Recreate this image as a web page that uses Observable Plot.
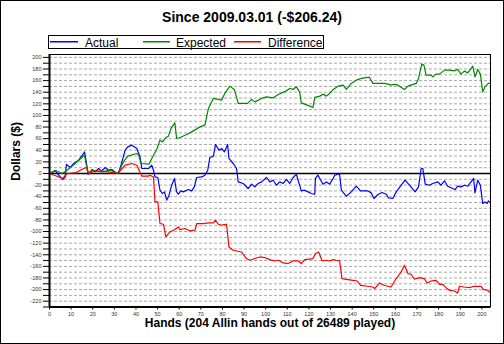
<!DOCTYPE html>
<html>
<head>
<meta charset="utf-8">
<script src="https://cdn.jsdelivr.net/npm/d3@7"></script>
<script src="https://cdn.jsdelivr.net/npm/@observablehq/plot@0.6"></script>
<style>
  body { margin: 0; background: #fff; }
  #wrap { position: relative; width: 504px; height: 344px; overflow: hidden; background: #fff;
          font-family: "Liberation Sans", Arial, sans-serif; color: #000; }
  #border { position: absolute; left: 0; top: 0; width: 504px; height: 344px; box-sizing: border-box;
            border: 1px solid #000; pointer-events: none; }
  #chart { position: absolute; left: 0; top: 0; }
  #title { position: absolute; left: 0; top: 10px; width: 504px; text-align: center;
           font-weight: bold; font-size: 14px; line-height: 14px; white-space: nowrap; }
  #legend { position: absolute; left: 0; top: 0; }
</style>
</head>
<body>
<div id="wrap">
  <div id="chart"></div>
  <div id="title"></div>
  <div id="legend"></div>
  <div id="border"></div>
</div>
<script>
const titleText = "Since 2009.03.01 (-$206.24)";
const xTitle = "Hands (204 Allin hands out of 26489 played)";
const yTitle = "Dollars ($)";
const seriesNames = ["Actual", "Expected", "Difference"];
const seriesColors = ["#0000ff", "#008800", "#ff0000"];

const actualHands = [0, 2.7, 4.2, 6.2, 7.3, 7.8, 9.6, 11.2, 13.5, 15.8, 16.2, 17, 17.8, 18.8, 19.6, 21.1, 22.7, 24.2, 25.8, 27.3, 28.8, 31.2, 32.2, 33.5, 35, 36.2, 38.1, 40.4, 41.9, 42.7, 45.8, 47.3, 48.1, 48.8, 50.1, 51.1, 52.2, 53.2, 54.2, 55.3, 56.5, 57.8, 58.8, 59.6, 60.8, 61.9, 64.2, 65.8, 67, 68.1, 70.4, 71.9, 73.2, 74.2, 75.8, 76.8, 78.4, 79.6, 80.9, 82.4, 83, 85, 86.5, 87.3, 89.6, 91.9, 93.5, 95, 96.5, 98.1, 100.4, 101.9, 103.5, 105, 106.5, 108.1, 109.6, 111.1, 112.7, 114.2, 115, 116.5, 118, 119.6, 121.1, 122.7, 123, 124.2, 126.5, 128.1, 129.6, 131.2, 131.9, 133.5, 134.2, 135, 137.3, 139.6, 141.9, 143.9, 147.3, 148.8, 150.1, 151.9, 153.8, 155.8, 156.8, 158.8, 160.4, 162.7, 164.5, 166.5, 169.1, 170.7, 171.9, 172.7, 173.8, 175.7, 177.3, 179.6, 181.1, 182.7, 184.2, 186.5, 187.6, 188.8, 190.4, 191.9, 193.5, 195, 196.2, 196.8, 198.1, 199.3, 200.4, 201.4, 202.4, 203, 204];
const actualValues = [0, 4.5, -2.9, -10.3, -5.9, 15.5, 10.3, 17.2, 22.9, 34.5, 37.2, 20, -1.2, 0, 6.9, 2.8, 8.6, 4.5, 10.3, 5.7, 6.9, 0, 2.8, 20, 40.2, 45.9, 48.8, 43.1, 28.6, 8.6, 8.6, 14.3, 5.7, -5.9, -6.9, -28.8, -34.5, -31.7, -46, -37.4, -20.2, -8.6, -31.7, -35.6, -30, -31.7, -27.6, -30, -23.1, -6.9, -5.9, -2.9, 5.7, 27.6, 29.8, 50, 40.2, 43.1, 37.2, 50, 25.9, 17.2, 8.6, -14.5, -17.2, -25.9, -18.4, -23.1, -17.2, -14.5, -6.9, -14.5, -11.6, -20.2, -14.5, -17.2, -10.3, -17.2, -6.9, -1.2, -11.6, -30, -28.8, -31.7, -34.5, -35.7, -8.6, -2.9, -18.4, -14.5, -18.4, -8.6, -2.9, -1.2, -1.2, -28.8, -39.1, -31.7, -21.9, -30, -30, -33.4, -43.1, -36.2, -32.8, -35.7, -42.1, -43.1, -31.7, -20.2, -11.6, -20.2, -31.7, -23.1, 8.6, 8.6, -18.4, -20.2, -17.2, -14.5, -20.2, -12.6, -21.9, -25.9, -27.6, -21.9, -23.1, -20.2, -21.9, -14.5, -8.6, -33.4, -11.6, -20.2, -51.7, -49, -51.7, -47.2, -50.7];

const expectedHands = [0, 2.7, 5.8, 8.1, 11.9, 16.2, 17.8, 19.6, 24.2, 28.1, 31.6, 34.2, 36.2, 40.4, 41.2, 42.4, 46, 47.3, 49.6, 51.1, 52.2, 53.8, 55, 56.2, 58, 58.8, 60.4, 62.7, 65.8, 69.6, 71.9, 73.5, 75.8, 79.6, 81.1, 83.4, 85.5, 87.3, 91.6, 93.5, 95, 98.1, 100.4, 103.5, 105.8, 109.6, 111.1, 112.7, 114.2, 115.7, 116.5, 120.4, 121.9, 122.7, 125, 126.5, 128.1, 129.6, 131.2, 133.5, 135.8, 137.3, 139.6, 141.9, 144.2, 147.3, 148, 149.6, 155, 158, 160.4, 161.9, 164.2, 165.8, 169.6, 170.7, 172.2, 173.2, 174.2, 176.5, 177.3, 178.8, 180.4, 182.7, 185, 187.3, 188.8, 190.4, 191.9, 193.5, 195.8, 196.8, 198.1, 199.3, 200.4, 201.5, 203, 204];
const expectedValues = [0, 5.7, 0, 5.7, 17.2, 31.6, 0, 5.7, 2.8, 5.7, 0, 20, 29.8, 34.5, 31.6, 17.2, 16, 25.9, 41.4, 57.4, 54.5, 62, 64.3, 77.6, 87.2, 60.3, 62, 66, 71.7, 80.3, 83.3, 112, 129.3, 126.4, 137.9, 150.5, 144.8, 120.7, 120.7, 127.6, 123.4, 129.3, 132, 130.3, 136.2, 142.4, 146.5, 144.8, 149.3, 140.7, 121.7, 116, 113.8, 131, 133.3, 136.7, 133.3, 137.9, 144.8, 150.5, 152.2, 144.8, 155.2, 160.8, 163.8, 165.5, 165.5, 155.2, 155.2, 152.7, 153.4, 150.5, 144.8, 150.5, 155.2, 163.8, 188.4, 186.7, 169.5, 169.5, 166.5, 171.2, 171.2, 178.1, 178.1, 176.9, 179.3, 171.2, 176.4, 173.4, 185, 166.5, 179.3, 171.2, 140.7, 149.3, 155.2, 155.2];

const differenceHands = [0, 6.2, 8.1, 11.9, 15.8, 17.3, 18.1, 21.1, 27.3, 31.6, 35, 38.1, 40.4, 42.7, 45.8, 46.5, 48.1, 48.8, 50.1, 51.1, 52.7, 53.8, 55.7, 58, 59.6, 60.4, 62.7, 65, 67.3, 68.1, 71.2, 73.5, 75.8, 76.8, 78.1, 79.6, 81.9, 83, 85, 88.8, 91.1, 92.7, 95, 97.3, 99.6, 101.9, 104.2, 106, 108.1, 110.4, 112.7, 115, 116.5, 118, 121.9, 123, 124.5, 126.1, 128.1, 129.6, 131.2, 132.7, 134.2, 135.3, 138.1, 140.4, 142.4, 143.9, 147.3, 149.6, 150.4, 152.7, 154.7, 156.5, 158, 160.4, 162.4, 164.2, 165.8, 167.3, 168.8, 171.1, 173.4, 174.7, 176.5, 178.8, 180.4, 181.9, 183.9, 185, 187.3, 188.8, 189.6, 191.9, 194.2, 196.5, 199.6, 200.8, 202.7, 204];
const differenceValues = [0, -8.6, 0, 1, 8.6, 10.3, 0, 4.5, 2.8, 0, 14.3, 17.2, 14.3, -4.7, -4.7, -2.9, -5.9, -49, -49, -86.2, -87.4, -109.3, -100.7, -96.6, -92.1, -96.6, -94.8, -99, -97.8, -86.2, -86.2, -85.2, -85.2, -80.5, -87.4, -89.1, -87.4, -126.5, -132.2, -135.2, -146.5, -149.5, -146.5, -143.8, -144.8, -148.3, -150.7, -149.5, -154.1, -155.2, -150.7, -150.7, -155.2, -148.3, -146.5, -137.9, -135.2, -150.3, -149.5, -150.7, -148.3, -149.5, -150.3, -181, -182.7, -184, -185.2, -192.6, -194.3, -195.5, -198.3, -188.6, -192.6, -194.3, -195.5, -181, -171.4, -158.1, -172.4, -173.6, -182.2, -179.3, -181, -188.6, -185.2, -184, -190.9, -190.9, -198.3, -201.2, -202.4, -205.9, -194.3, -195.5, -196.5, -194.3, -194.3, -200, -201.2, -206.24];

const xTicks = [0, 10, 20, 30, 40, 50, 60, 70, 80, 90, 100, 110, 120, 130, 140, 150, 160, 170, 180, 190, 200];
const yTicks = [-230, -220, -210, -200, -190, -180, -170, -160, -150, -140, -130, -120, -110, -100, -90, -80, -70, -60, -50, -40, -30, -20, -10, 0, 10, 20, 30, 40, 50, 60, 70, 80, 90, 100, 110, 120, 130, 140, 150, 160, 170, 180, 190, 200];
const yDomain = [-230, 205];
const xDomain = [0, 204];

// build tables
const toRows = (hs, vs) => hs.map((h, i) => ({hand: h, value: vs[i]}));
const series = [toRows(actualHands, actualValues), toRows(expectedHands, expectedValues), toRows(differenceHands, differenceValues)];
const gridValues = yTicks.filter(v => v !== 0 && v !== yDomain[0]);

const font = "Liberation Sans, Arial, sans-serif";
const chart = Plot.plot({
  width: 504,
  height: 344,
  marginLeft: 49,
  marginRight: 14,
  marginTop: 54,
  marginBottom: 37.5,
  x: {domain: xDomain},
  y: {domain: yDomain},
  style: {fontFamily: font, background: "transparent", overflow: "visible"},
  marks: [
    Plot.ruleY(gridValues, {stroke: "#a8a8a8", strokeDasharray: "3,2", strokeWidth: 1}),
    Plot.ruleY([0], {stroke: "#000", strokeWidth: 1.5}),
    Plot.line(series[0], {x: "hand", y: "value", stroke: seriesColors[0], strokeWidth: 1.2}),
    Plot.line(series[1], {x: "hand", y: "value", stroke: seriesColors[1], strokeWidth: 1.2}),
    Plot.line(series[2], {x: "hand", y: "value", stroke: seriesColors[2], strokeWidth: 1.2}),
    Plot.frame({stroke: "#000", strokeWidth: 1}),
    Plot.ruleX([xDomain[0]], {stroke: "#000", strokeWidth: 2}),
    Plot.ruleY([yDomain[0]], {stroke: "#000", strokeWidth: 2}),
    Plot.axisY({ticks: yTicks, tickSize: 6, tickPadding: 2, label: null,
      tickFormat: d => (d % 20 === 0 ? String(d) : ""), fontSize: 5.5, fill: "#333", stroke: "#000"}),
    Plot.axisX({ticks: xTicks, tickSize: 3, tickPadding: 2, label: null,
      tickFormat: d => String(d), fontSize: 5.5, fill: "#333", stroke: "#000"}),
    Plot.text([yTitle], {frameAnchor: "left", dx: -33, rotate: -90, fontWeight: "bold", fontSize: 12, fill: "#000"}),
    Plot.text([xTitle], {frameAnchor: "bottom", dy: 20, fontWeight: "bold", fontSize: 12, fill: "#000"})
  ]
});
document.getElementById("chart").appendChild(chart);
document.getElementById("title").textContent = titleText;

// legend (small svg overlay in page coordinates)
const legendLayout = [
  {line: [50, 78], text: 85},
  {line: [143, 170], text: 176},
  {line: [234, 261], text: 268}
];
const lsvg = d3.select("#legend").append("svg")
  .attr("width", 504).attr("height", 52)
  .style("display", "block");
lsvg.append("rect")
  .attr("x", 48.5).attr("y", 35.5).attr("width", 275).attr("height", 13)
  .attr("fill", "#fff").attr("stroke", "#000").attr("stroke-width", 1);
seriesNames.forEach((name, i) => {
  lsvg.append("rect")
    .attr("x", legendLayout[i].line[0]).attr("width", legendLayout[i].line[1] - legendLayout[i].line[0])
    .attr("y", 41).attr("height", 1.5)
    .attr("fill", seriesColors[i]);
  lsvg.append("text")
    .attr("x", legendLayout[i].text).attr("y", 46.5)
    .attr("font-family", font).attr("font-size", 12).attr("fill", "#000")
    .text(name);
});
</script>
</body>
</html>
